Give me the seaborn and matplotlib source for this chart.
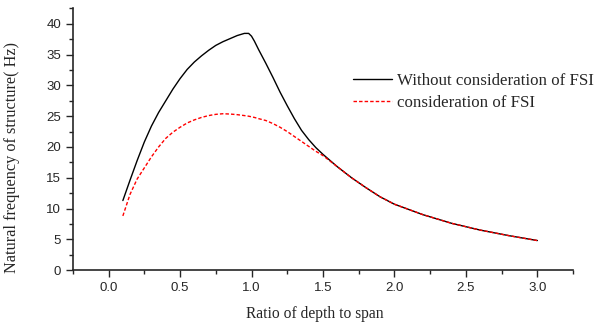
import pandas as pd
import seaborn as sns
import matplotlib.pyplot as plt
from matplotlib.ticker import MultipleLocator

# values
ratio = [0.10, 0.15, 0.20, 0.25, 0.30, 0.35, 0.40, 0.45, 0.50, 0.55, 0.60, 0.65,
         0.70, 0.75, 0.80, 0.85, 0.90, 0.95, 0.98, 1.00, 1.02, 1.05, 1.10, 1.15,
         1.20, 1.25, 1.30, 1.35, 1.40, 1.45, 1.50, 1.60, 1.70, 1.80, 1.90, 2.00,
         2.20, 2.40, 2.60, 2.80, 3.00]
freq_no_fsi = [11.3, 14.6, 17.8, 20.8, 23.4, 25.6, 27.5, 29.4, 31.1, 32.6, 33.8, 34.8,
               35.7, 36.5, 37.1, 37.6, 38.1, 38.45, 38.45, 38.0, 37.2, 35.8, 33.6, 31.3,
               28.9, 26.7, 24.6, 22.7, 21.2, 19.9, 18.8, 16.8, 15.0, 13.4, 11.9, 10.7,
               9.0, 7.6, 6.5, 5.6, 4.8]
freq_fsi = [8.8, 12.3, 14.8, 16.6, 18.4, 20.0, 21.4, 22.4, 23.2, 23.9, 24.4, 24.8,
            25.1, 25.3, 25.4, 25.35, 25.25, 25.1, 25.0, 24.9, 24.8, 24.6, 24.3, 23.8,
            23.2, 22.5, 21.7, 20.9, 20.1, 19.3, 18.6, 16.8, 15.0, 13.4, 11.9, 10.7,
            9.0, 7.6, 6.5, 5.6, 4.8]
labels = ["Without consideration of FSI", "consideration of FSI"]

df = pd.concat([
    pd.DataFrame({"x": ratio, "y": freq_no_fsi, "case": labels[0]}),
    pd.DataFrame({"x": ratio, "y": freq_fsi, "case": labels[1]}),
])

sns.set_style("ticks")
plt.rcParams["font.family"] = ["Liberation Serif", "DejaVu Serif"]

fig = plt.figure(figsize=(5.97, 3.27), dpi=100)
ax = fig.add_axes([0.122, 0.174, 0.838, 0.802])
sns.lineplot(data=df, x="x", y="y", hue="case", style="case",
             palette={labels[0]: "black", labels[1]: "red"},
             dashes={labels[0]: "", labels[1]: (2.5, 1.5)},
             linewidth=1.0, ax=ax)

ax.set_xlim(-0.25, 3.25)
ax.set_ylim(0, 42.6)
ax.xaxis.set_major_locator(MultipleLocator(0.5))
ax.xaxis.set_minor_locator(MultipleLocator(0.25))
ax.yaxis.set_major_locator(MultipleLocator(5))
ax.yaxis.set_minor_locator(MultipleLocator(2.5))
ax.tick_params(which="major", direction="out", length=5, width=1, labelsize=9.5)
ax.tick_params(which="minor", direction="out", length=3, width=1)
for t in ax.get_xticklabels() + ax.get_yticklabels():
    t.set_fontfamily("Liberation Sans")
sns.despine(ax=ax)
for s in ["left", "bottom"]:
    ax.spines[s].set_linewidth(1.2)

ax.set_xlabel("Ratio of depth to span", fontsize=11.2)
ax.set_ylabel("Natural frequency of structure( Hz)", fontsize=11.7)
ax.xaxis.set_label_coords(0.483, -0.135)
ax.yaxis.set_label_coords(-0.105, 0.43)

leg = ax.legend(loc="upper left", bbox_to_anchor=(0.546, 0.779), frameon=False,
                fontsize=12.2, handlelength=2.3, handletextpad=0.3,
                labelspacing=0.4, borderaxespad=0)

fig.savefig("out.png", dpi=100)
